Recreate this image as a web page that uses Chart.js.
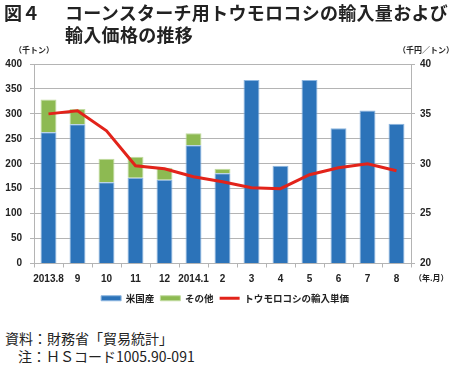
<!DOCTYPE html>
<html>
<head>
<meta charset="utf-8">
<script src="https://cdn.jsdelivr.net/npm/chart.js@4"></script>
<style>
body{margin:0;background:#fff;font-family:"Noto Sans CJK JP",sans-serif;}
#wrap{position:relative;width:450px;height:365px;overflow:hidden;}
#box{position:absolute;left:0;top:0;width:450px;height:313px;}
.t{position:absolute;white-space:nowrap;color:#222;}
</style>
</head>
<body>
<div id="wrap">
<div id="box"><canvas id="grafico"></canvas></div>
<div class="t" style="left:4px;top:0px;font-size:18px;font-weight:bold;line-height:24px">図４</div>
<div class="t" style="left:65px;top:0px;font-size:18px;font-weight:bold;line-height:24px;letter-spacing:0.3px">コーンスターチ用トウモロコシの輸入量および</div>
<div class="t" style="left:65px;top:22px;font-size:18px;font-weight:bold;line-height:24px;letter-spacing:0.3px">輸入価格の推移</div>
<div class="t" style="left:14px;top:44px;font-size:8px;font-weight:bold">（千トン）</div>
<div class="t" style="left:398px;top:44px;font-size:8px;font-weight:bold">（千円／トン）</div>
<div class="t" style="left:414px;top:272px;font-size:8px;font-weight:bold">（年.月）</div>
<div class="t" style="left:5px;top:328px;font-size:14px">資料：財務省「貿易統計」</div>
<div class="t" style="left:18px;top:346px;font-size:14px">注：ＨＳコード1005.90-091</div>
</div>
<script>
meses=['2013.8','9','10','11','12','2014.1','2','3','4','5','6','7','8'];
// 輸入量 (千トン)
americano=[263,279,163,172,168,237,181,368,196,368,271,307,280];
outros=[66,31,47,42,24,24,9,0,0,0,0,0,0];
// 輸入単価 (千円/トン)
preco=[35.0,35.3,33.3,29.8,29.5,28.7,28.2,27.6,27.5,28.9,29.6,30.0,29.3];

fonteTick={family:'Liberation Sans, Arial, sans-serif',size:10,weight:'bold'};
cinza='#b4b4b4';

{
let ctx=document.getElementById("grafico")

var grafico= new Chart(ctx, {
  type: 'bar',
  data: {
    labels: meses,
    datasets: [{
      label: '米国産',
      data: americano,
      backgroundColor:'#2c73b9',
      borderColor:'#8db6e0',
      borderWidth:1,
      pointStyle:'rect',
      yAxisID:'y',
      order:1
    },{
      label: 'その他',
      data: outros,
      backgroundColor:'#8dba52',
      borderColor:'#c2dba0',
      borderWidth:1,
      pointStyle:'rect',
      yAxisID:'y',
      order:1
    },{
      type:'line',
      label: 'トウモロコシの輸入単価',
      data: preco,
      borderColor:'#e2231a',
      backgroundColor:'#e2231a',
      borderWidth:3,
      pointRadius:0,
      pointStyle:'line',
      tension:0,
      yAxisID:'y1',
      order:0
    }]
  },
  options: {
    animation:false,
    responsive:true,
    maintainAspectRatio:false,
    datasets:{bar:{barPercentage:0.55,categoryPercentage:1}},
    layout:{
      padding:{top:64,left:0,right:0,bottom:0}
    },
    plugins:{
      legend:{
        position:'bottom',
        labels:{
          sort:(a,b)=>a.datasetIndex-b.datasetIndex,
          usePointStyle:true,
          pointStyleWidth:20,
          boxHeight:5,
          padding:6,
          color:'#222',
          font:{family:'Noto Sans CJK JP',size:9.5,weight:'bold'}
        }
      },
      tooltip:{enabled:false}
    },
    scales: {
      x:{
        stacked:true,
        grid:{drawOnChartArea:false,color:cinza,tickLength:4,offset:true},
        border:{color:cinza},
        ticks:{color:'#222',font:fonteTick,padding:6,maxRotation:0,autoSkip:false},
        afterFit:function(s){s.height=24;}
      },
      y:{
        stacked:true,
        position:'left',
        min:0,
        max:400,
        grid:{color:cinza,tickLength:4},
        border:{color:cinza},
        ticks:{stepSize:50,color:'#222',font:fonteTick,padding:8},
        afterFit:function(s){s.width=34;}
      },
      y1:{
        position:'right',
        min:20,
        max:40,
        grid:{drawOnChartArea:false,color:cinza,tickLength:4},
        border:{color:cinza},
        ticks:{stepSize:5,color:'#222',font:fonteTick,padding:5},
        afterFit:function(s){s.width=39;}
      }
    }
  }
});}
</script>
</body>
</html>
